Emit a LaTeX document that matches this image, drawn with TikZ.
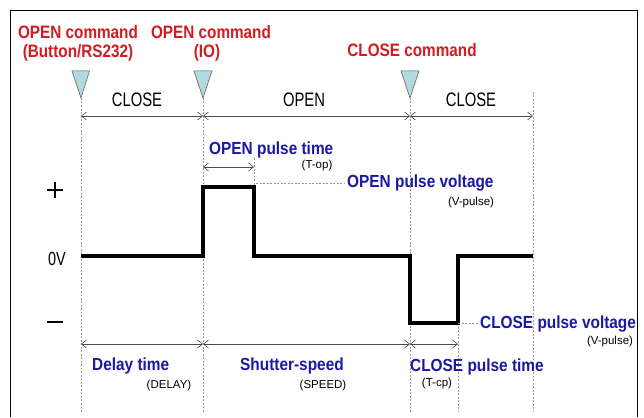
\documentclass[tikz,border=0pt]{standalone}
\usepackage{fontspec}
\setmainfont{Liberation Sans}
\newfontfamily\boldnarrow[FakeStretch=0.85]{Liberation Sans}
\newfontfamily\bluefont[FakeStretch=0.88]{Liberation Sans}
\newfontfamily\statefont[FakeStretch=0.76]{Liberation Sans}
\usetikzlibrary{arrows.meta}
\definecolor{cmdred}{RGB}{210,28,32}
\definecolor{lblblue}{RGB}{25,25,165}
\definecolor{trifill}{RGB}{178,218,222}
\begin{document}
\begin{tikzpicture}[x=1pt,y=-1pt,
  cmd/.style={text=cmdred, font=\boldnarrow\bfseries\fontsize{18}{18}\selectfont, inner sep=0pt},
  statelbl/.style={font=\statefont\fontsize{19.5}{19.5}\selectfont, inner sep=0pt},
  lbl/.style={text=lblblue, font=\bluefont\bfseries\fontsize{17.5}{17.5}\selectfont, inner sep=0pt, anchor=west},
  sublbl/.style={font=\fontsize{11.5}{11.5}\selectfont, inner sep=0pt},
  axislbl/.style={font=\statefont\fontsize{19}{19}\selectfont, inner sep=0pt},
  span/.style={draw=gray!60!black, line width=0.6pt, {Straight Barb[length=5pt,width=8pt]}-{Straight Barb[length=5pt,width=8pt]}},
  guide/.style={draw=gray!80, dash pattern=on 2pt off 1.5pt, line width=0.6pt},
  wave/.style={draw=black, line width=3.8pt, line join=miter},
  trig/.style={draw=gray!70!black, fill=trifill, line width=0.5pt}]
\useasboundingbox (0,0) rectangle (644,417);
\fill[white] (0,0) rectangle (644,417);
% frame
\draw[line width=0.8pt] (10,417) -- (10,10) -- (637,10) -- (637,417);

% time coordinates
\coordinate (a0) at (81,98);   \coordinate (a1) at (81,412);
\coordinate (b0) at (203,98);  \coordinate (b1) at (203,412);
\coordinate (c0) at (254,158); \coordinate (c1) at (254,187);
\coordinate (d0) at (410,98);  \coordinate (d1) at (410,412);
\coordinate (e0) at (458,323); \coordinate (e1) at (458,412);
\coordinate (f0) at (533,92);  \coordinate (f1) at (533,412);

% guides
\draw[guide] (a0) -- (a1);
\draw[guide] (b0) -- (b1);
\draw[guide] (c0) -- (c1);
\draw[guide] (d0) -- (d1);
\draw[guide] (e0) -- (e1);
\draw[guide] (f0) -- (f1);

% commands
\node[cmd] (cmd1a) at (78,32) {OPEN command};
\node[cmd] (cmd1b) at (78,53) {(Button/RS232)};
\node[cmd] (cmd2a) at (211,32) {OPEN command};
\node[cmd] (cmd2b) at (207,53) {(IO)};
\node[cmd] (cmd3) at (412,50) {CLOSE command};

% triggers
\draw[trig] (72,71) -- (89.5,71) -- (a0) -- cycle;
\draw[trig] (194,71) -- (212,71) -- (b0) -- cycle;
\draw[trig] (401,71) -- (419,71) -- (d0) -- cycle;

% states
\node[statelbl] (st1) at (137,100) {CLOSE};
\node[statelbl] (st2) at (304,100) {OPEN};
\node[statelbl] (st3) at (471,100) {CLOSE};
\coordinate (ta) at (81,116); \coordinate (tb) at (203,116);
\coordinate (td) at (410,116); \coordinate (tf) at (533,116);
\draw[span] (ta) -- (tb);
\draw[span] (tb) -- (td);
\draw[span] (td) -- (tf);

% axis labels
\node[inner sep=0pt] (plus) at (55,190) {\rule[7pt]{16pt}{2pt}\llap{\rule{2pt}{16pt}\hspace{7pt}}};
\node[axislbl] (zero) at (57,259) {0V};
\node[inner sep=0pt] (minus) at (55,322) {\rule{16pt}{2.2pt}};

% waveform
\coordinate (w0) at (81,256);
\coordinate (w1) at (203,256);
\coordinate (w2) at (203,187);
\coordinate (w3) at (254,187);
\coordinate (w4) at (254,256);
\coordinate (w5) at (410,256);
\coordinate (w6) at (410,323);
\coordinate (w7) at (458,323);
\coordinate (w8) at (458,256);
\coordinate (w9) at (533,256);
\draw[wave] (w0) -- (w1) -- (w2) -- (w3) -- (w4) -- (w5) -- (w6) -- (w7) -- (w8) -- (w9);

% OPEN pulse labels
\coordinate (opa) at (203,167); \coordinate (opb) at (254,167);
\draw[span] (opa) -- (opb);
\node[lbl] (optime) at (209,150) {OPEN pulse time};
\node[sublbl] (optimes) at (317,166) {(T-op)};
\coordinate (ovs) at (256,183); \coordinate (ovd) at (345,183);
\draw[guide] (ovs) -- (ovd);
\node[lbl] (opvolt) at (347,183) {OPEN pulse voltage};
\node[sublbl] (opvolts) at (471,203) {(V-pulse)};

% CLOSE pulse voltage
\coordinate (cvd) at (478,323);
\draw[guide] (w7) -- (cvd);
\node[lbl] (clvolt) at (480,324) {CLOSE pulse voltage};
\node[sublbl] (clvolts) at (610,342) {(V-pulse)};

% bottom spans
\coordinate (ba) at (81,344); \coordinate (bb) at (203,344);
\coordinate (bd) at (410,344); \coordinate (be) at (458,344);
\draw[span] (ba) -- (bb);
\draw[span] (bb) -- (bd);
\draw[span] (bd) -- (be);
\node[lbl] (delay) at (92,366) {Delay time};
\node[sublbl] (delays) at (169,386) {(DELAY)};
\node[lbl] (speed) at (240,366) {Shutter-speed};
\node[sublbl] (speeds) at (323,386) {(SPEED)};
\node[lbl] (cltime) at (410,367) {CLOSE pulse time};
\node[sublbl] (cltimes) at (437,384) {(T-cp)};
\end{tikzpicture}
\end{document}
